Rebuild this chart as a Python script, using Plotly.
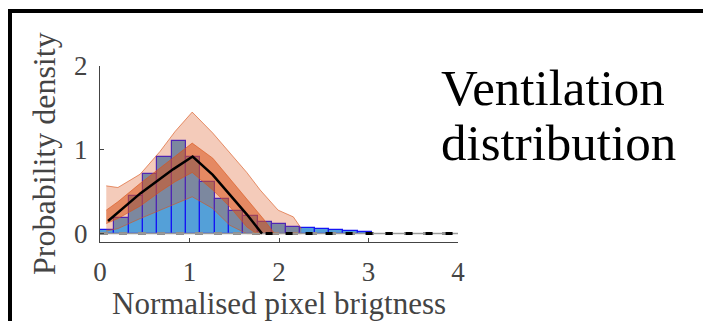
import plotly.graph_objects as go

# Histogram of normalised pixel brightness (bin width 0.16)
bin_width = 0.16
bin_left = [0.00, 0.16, 0.32, 0.48, 0.64, 0.80, 0.96, 1.12, 1.28, 1.44,
            1.60, 1.76, 1.92, 2.08, 2.24, 2.40, 2.56, 2.72, 2.88]
density = [0.04, 0.19, 0.45, 0.71, 0.91, 1.11, 0.92, 0.62, 0.41, 0.27,
           0.21, 0.14, 0.11, 0.08, 0.07, 0.05, 0.04, 0.03, 0.02]

# Outer (wide) confidence band
outer_x = [0.07, 0.20, 0.45, 0.67, 0.84, 1.03, 1.26, 1.45, 1.64, 1.79, 1.99, 2.16, 2.25]
outer_hi = [0.57, 0.55, 0.71, 0.98, 1.22, 1.45, 1.20, 0.97, 0.73, 0.52, 0.28, 0.20, 0.06]
outer_lo = [0.03, 0.06, 0.18, 0.28, 0.35, 0.44, 0.30, 0.10, 0.00, 0.00, 0.00, 0.00, 0.00]

# Inner (narrow) confidence band
inner_x = [0.07, 0.20, 0.45, 0.67, 0.84, 1.03, 1.26, 1.45, 1.64, 1.75, 1.83, 1.95]
inner_hi = [0.28, 0.38, 0.60, 0.78, 0.92, 1.08, 0.90, 0.66, 0.42, 0.28, 0.17, 0.00]
inner_lo = [0.12, 0.18, 0.33, 0.50, 0.62, 0.73, 0.52, 0.32, 0.08, 0.00, 0.00, 0.00]

# Mean curve
mean_x = [0.09, 0.45, 0.82, 1.035, 1.26, 1.45, 1.64, 1.81]
mean_y = [0.15, 0.48, 0.77, 0.92, 0.70, 0.47, 0.23, 0.00]

# Zero reference line
zero_x = [0.0, 4.0]
zero_y = [0.0, 0.0]
zero_tail_x = [1.85, 4.0]
zero_tail_y = [0.0, 0.0]

x_ticks = [0, 1, 2, 3, 4]
y_ticks = [0, 1, 2]

# plot-area pixel geometry
L, R, T, B = 100, 458, 66, 242
W_PX, H_PX = 703, 321


def px(xp):
    return (xp - L) / (R - L)


def py(yp):
    return (B - yp) / (B - T)


SERIF = "Liberation Serif"
ORANGE = "217,83,25"

fig = go.Figure()

fig.add_trace(go.Scatter(x=zero_x, y=zero_y, mode="lines",
                         line=dict(color="#8c8c8c", width=3, dash="8px,11px"),
                         hoverinfo="skip", showlegend=False))

fig.add_trace(go.Bar(x=[b + bin_width / 2 for b in bin_left], y=density,
                     width=bin_width,
                     marker=dict(color="rgb(84,160,216)",
                                 line=dict(color="rgb(20,20,245)", width=1.2)),
                     showlegend=False))

# outer band
fig.add_trace(go.Scatter(x=outer_x, y=outer_lo, mode="lines",
                         line=dict(color=f"rgba({ORANGE},0.6)", width=1),
                         showlegend=False, hoverinfo="skip"))
fig.add_trace(go.Scatter(x=outer_x, y=outer_hi, mode="lines", fill="tonexty",
                         fillcolor=f"rgba({ORANGE},0.3)",
                         line=dict(color=f"rgba({ORANGE},0.6)", width=1),
                         showlegend=False, hoverinfo="skip"))
# inner band
fig.add_trace(go.Scatter(x=inner_x, y=inner_lo, mode="lines",
                         line=dict(color=f"rgba({ORANGE},0.6)", width=1),
                         showlegend=False, hoverinfo="skip"))
fig.add_trace(go.Scatter(x=inner_x, y=inner_hi, mode="lines", fill="tonexty",
                         fillcolor=f"rgba({ORANGE},0.55)",
                         line=dict(color=f"rgba({ORANGE},0.6)", width=1),
                         showlegend=False, hoverinfo="skip"))

fig.add_trace(go.Scatter(x=zero_x, y=zero_y, mode="lines",
                         line=dict(color="#9a9a9a", width=1.5),
                         hoverinfo="skip", showlegend=False))
fig.add_trace(go.Scatter(x=zero_tail_x, y=zero_tail_y, mode="lines",
                         line=dict(color="black", width=3, dash="7px,13px"),
                         hoverinfo="skip", showlegend=False))

fig.add_trace(go.Scatter(x=mean_x, y=mean_y, mode="lines",
                         line=dict(color="black", width=2.5),
                         hoverinfo="skip", showlegend=False))

axis_common = dict(showline=True, linecolor="#444", linewidth=1,
                   ticks="inside", ticklen=4, tickcolor="#444",
                   showgrid=False, zeroline=False,
                   tickfont=dict(family=SERIF, size=27, color="#444"))

fig.update_xaxes(range=[0, 4], tickvals=x_ticks, ticklabelstandoff=6,
                 **axis_common)
fig.update_yaxes(range=[-0.1, 2], tickvals=y_ticks, ticklabelstandoff=6,
                 **axis_common)

annotations = [
    dict(text="Probability density", x=px(44), y=py(154), textangle=-90,
         font=dict(family=SERIF, size=32, color="#444")),
    dict(text="Normalised pixel brigtness", x=px(279), y=py(303),
         font=dict(family=SERIF, size=31, color="#444")),
    dict(text="Ventilation", x=px(439), y=py(88), xanchor="left",
         font=dict(family=SERIF, size=51, color="black")),
    dict(text="distribution", x=px(439), y=py(143), xanchor="left",
         font=dict(family=SERIF, size=51, color="black")),
]
for a in annotations:
    a.update(xref="paper", yref="paper", showarrow=False)
    a.setdefault("xanchor", "center")
    a.setdefault("yanchor", "middle")

# frame lines along the top and left edges
shapes = [
    dict(type="line", xref="paper", yref="paper",
         x0=px(8), x1=px(703), y0=py(11), y1=py(11),
         line=dict(color="black", width=4)),
    dict(type="line", xref="paper", yref="paper",
         x0=px(10), x1=px(10), y0=py(9), y1=py(321),
         line=dict(color="black", width=4)),
]

fig.update_layout(width=W_PX, height=H_PX,
                  margin=dict(l=L, r=W_PX - R, t=T, b=H_PX - B),
                  plot_bgcolor="white", paper_bgcolor="white",
                  bargap=0, annotations=annotations, shapes=shapes,
                  showlegend=False)

fig.write_html("out.html")
